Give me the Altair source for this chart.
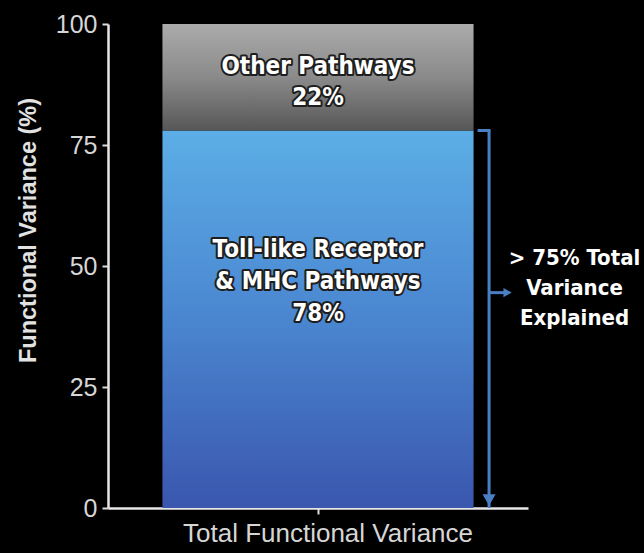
import altair as alt
import pandas as pd

# Share of functional variance per pathway group (stacked, in %)
category = "Total Functional Variance"
segments = ["Toll-like Receptor & MHC Pathways", "Other Pathways"]
shares = [78, 22]
label_lines = [["Toll-like Receptor", "& MHC Pathways", "78%"], ["Other Pathways", "22%"]]
y_ticks = [0, 25, 50, 75, 100]
note_lines = ["> 75% Total", "Variance", "Explained"]
note_level = 44.5  # height of the side arrow and note

starts = [0, shares[0]]
ends = [shares[0], shares[0] + shares[1]]
bars = pd.DataFrame({
    "cat": [category] * 2,
    "segment": segments,
    "start": starts,
    "end": ends,
    "mid": [(s + e) / 2 for s, e in zip(starts, ends)],
    "lines": label_lines,
})

BOLD_NARROW = "Liberation Sans Narrow, DejaVu Sans Condensed, Roboto"
BLUE_LINE = "#4a7fc6"
AXIS_TEXT = "#d6d6d6"

x_enc = alt.X(
    "cat:N",
    title=None,
    scale=alt.Scale(paddingInner=0, paddingOuter=0.175),
    axis=alt.Axis(
        labelAngle=0, labelFontSize=26, labelColor=AXIS_TEXT, labelFont="Liberation Sans",
        labelPadding=6, labelOffset=10, labelLimit=500, tickSize=6, tickWidth=2,
        tickColor="#dcdcdc", domainColor="#e6e6e6", domainWidth=2.5,
    ),
)
y_scale = alt.Scale(domain=[0, 100], nice=False)

base = alt.Chart(bars)

gray_fill = alt.Gradient(
    gradient="linear", x1=0, x2=0, y1=0, y2=1,
    stops=[alt.GradientStop(color="#ababab", offset=0),
           alt.GradientStop(color="#8a8a8a", offset=0.5),
           alt.GradientStop(color="#575757", offset=1)],
)
blue_fill = alt.Gradient(
    gradient="linear", x1=0, x2=0, y1=0, y2=1,
    stops=[alt.GradientStop(color="#5caee6", offset=0),
           alt.GradientStop(color="#4a86d0", offset=0.5),
           alt.GradientStop(color="#3a56ae", offset=1)],
)

def segment_bar(name, fill):
    return base.transform_filter(alt.datum.segment == name).mark_bar(fill=fill).encode(
        x=x_enc,
        y=alt.Y(
            "start:Q", scale=y_scale,
            title="Functional Variance (%)",
            axis=alt.Axis(
                values=y_ticks, grid=False, labelFontSize=25, labelColor=AXIS_TEXT,
                labelFont="Liberation Sans", labelPadding=5, tickSize=6, tickWidth=2,
                tickColor="#dcdcdc", domainColor="#e6e6e6", domainWidth=2.5,
                titleFontSize=23.5, titleFont="Liberation Sans", titleFontWeight="bold",
                titleColor="#e2e2e2", titleX=-80, titleY=206, titleBaseline="middle",
            ),
        ),
        y2="end:Q",
    )

def segment_label(name, offset, line_height):
    sel = base.transform_filter(alt.datum.segment == name)
    common = dict(font=BOLD_NARROW, fontWeight="bold", fontSize=24, lineHeight=line_height,
                  align="center", baseline="middle", yOffset=offset)
    enc = dict(x=alt.X("cat:N"), y=alt.Y("mid:Q", scale=y_scale), text="lines")
    halo = sel.mark_text(stroke="#1e1e1e", strokeWidth=4, strokeJoin="round",
                         fill="#1e1e1e", **common).encode(**enc)
    face = sel.mark_text(fill="white", **common).encode(**enc)
    return halo + face

right_edge = dict(field="cat", type="nominal", bandPosition=1)
top_row = base.transform_filter(alt.datum.segment == segments[0])

# Bracket spanning the first segment, with arrows at its foot and middle
bracket_v = top_row.mark_rule(color=BLUE_LINE, strokeWidth=3, xOffset=15.5).encode(
    x=alt.X(**right_edge), y=alt.Y("end:Q", scale=y_scale), y2=alt.Y2("start:Q"),
)
bracket_top = top_row.mark_rule(color=BLUE_LINE, strokeWidth=3, xOffset=4, x2Offset=17).encode(
    x=alt.X(**right_edge), x2=alt.X2("cat:N", bandPosition=1), y=alt.Y("end:Q", scale=y_scale),
)
bracket_head = top_row.mark_point(
    shape="triangle-down", filled=True, color=BLUE_LINE, opacity=1, size=170,
    xOffset=15.5, yOffset=-8,
).encode(x=alt.X(**right_edge), y=alt.Y("start:Q", scale=y_scale))

note = pd.DataFrame({"cat": [category], "level": [note_level], "lines": [note_lines]})
nb = alt.Chart(note)
side_shaft = nb.mark_rule(color=BLUE_LINE, strokeWidth=3, xOffset=15.5, x2Offset=32).encode(
    x=alt.X(**right_edge), x2=alt.X2("cat:N", bandPosition=1), y=alt.Y("level:Q", scale=y_scale),
)
side_head = nb.mark_point(
    shape="triangle-right", filled=True, color=BLUE_LINE, opacity=1, size=90, xOffset=34,
).encode(x=alt.X(**right_edge), y=alt.Y("level:Q", scale=y_scale))
side_text = nb.mark_text(
    font=BOLD_NARROW, fontWeight="bold", fontSize=22, lineHeight=30, fill="white",
    align="center", baseline="middle", xOffset=101, yOffset=-35,
).encode(x=alt.X(**right_edge), y=alt.Y("level:Q", scale=y_scale), text="lines")

chart = alt.layer(
    segment_bar(segments[0], blue_fill),
    segment_bar(segments[1], gray_fill),
    segment_label(segments[0], -69, 32),
    segment_label(segments[1], -10, 31),
    bracket_v, bracket_top, bracket_head,
    side_shaft, side_head, side_text,
).properties(
    width=420, height=484,
    autosize=alt.AutoSizeParams(type="none"),
    padding={"left": 108, "top": 24, "right": 116, "bottom": 45},
    background="#000000",
).configure_view(stroke=None)

chart.save("out.html", embed_options={"renderer": "svg", "actions": False})
